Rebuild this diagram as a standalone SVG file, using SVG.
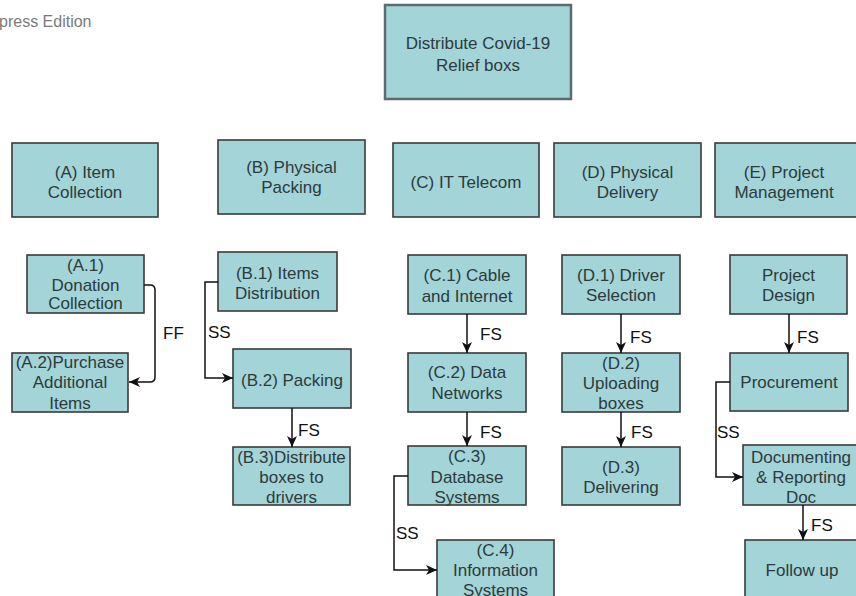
<svg xmlns="http://www.w3.org/2000/svg" width="856" height="596" viewBox="0 0 856 596">
<style>
.box{fill:#a2d4d8;stroke:#3a3a3a;stroke-width:1.6}
.top{fill:#a2d4d8;stroke:#5c6c6e;stroke-width:2.5}
.t{font-family:"Liberation Sans",Arial,sans-serif;font-size:17px;fill:#2e3a3b;text-anchor:middle}
.lbl{font-family:"Liberation Sans",Arial,sans-serif;font-size:17px;fill:#111}
.c{fill:none;stroke:#111;stroke-width:1.5;marker-end:url(#ah)}
.wm{font-family:"Liberation Sans",Arial,sans-serif;font-size:16px;fill:#7a7a7a}
</style>
<defs>
<marker id="ah" markerUnits="userSpaceOnUse" markerWidth="12" markerHeight="10" refX="11" refY="5" orient="auto">
<path d="M0,0 L11,5 L0,10 L3,5 Z" fill="#111"/>
</marker>
</defs>
<text class="wm" x="-1" y="27">press Edition</text>
<g id="root"><rect class="top" x="385" y="5" width="186" height="94"/><text class="t" x="478" y="49">Distribute Covid-19</text><text class="t" x="478" y="71">Relief boxs</text></g>
<g id="A"><rect class="box" x="12" y="143" width="146" height="74"/><text class="t" x="85" y="178">(A) Item</text><text class="t" x="85" y="198">Collection</text></g>
<g id="B"><rect class="box" x="218" y="140" width="147" height="74"/><text class="t" x="291.5" y="173">(B) Physical</text><text class="t" x="291.5" y="193">Packing</text></g>
<g id="C"><rect class="box" x="393" y="143" width="146" height="74"/><text class="t" x="466" y="188">(C) IT Telecom</text></g>
<g id="D"><rect class="box" x="554" y="143" width="147" height="74"/><text class="t" x="627.5" y="178">(D) Physical</text><text class="t" x="627.5" y="198">Delivery</text></g>
<g id="E"><rect class="box" x="715" y="143" width="147" height="74"/><text class="t" x="784" y="178">(E) Project</text><text class="t" x="784" y="198">Management</text></g>
<g id="A1"><rect class="box" x="27" y="255" width="117" height="58"/><text class="t" x="85.5" y="271">(A.1)</text><text class="t" x="85.5" y="291">Donation</text><text class="t" x="85.5" y="309">Collection</text></g>
<g id="A2"><rect class="box" x="12" y="353" width="116" height="59"/><text class="t" x="70" y="368">(A.2)Purchase</text><text class="t" x="70" y="388">Additional</text><text class="t" x="70" y="409">Items</text></g>
<g id="B1"><rect class="box" x="218" y="252" width="119" height="59"/><text class="t" x="277.5" y="279">(B.1) Items</text><text class="t" x="277.5" y="299">Distribution</text></g>
<g id="B2"><rect class="box" x="233" y="349" width="118" height="59"/><text class="t" x="292" y="386">(B.2) Packing</text></g>
<g id="B3"><rect class="box" x="233" y="447" width="117" height="58"/><text class="t" x="291.5" y="463">(B.3)Distribute</text><text class="t" x="291.5" y="483">boxes to</text><text class="t" x="291.5" y="503">drivers</text></g>
<g id="C1"><rect class="box" x="408" y="255" width="118" height="59"/><text class="t" x="467" y="281">(C.1) Cable</text><text class="t" x="467" y="302">and Internet</text></g>
<g id="C2"><rect class="box" x="408" y="353" width="118" height="59"/><text class="t" x="467" y="378">(C.2) Data</text><text class="t" x="467" y="399">Networks</text></g>
<g id="C3"><rect class="box" x="408" y="446" width="118" height="59"/><text class="t" x="467" y="462">(C.3)</text><text class="t" x="467" y="483">Database</text><text class="t" x="467" y="503">Systems</text></g>
<g id="C4"><rect class="box" x="437" y="540" width="117" height="70"/><text class="t" x="495.5" y="556">(C.4)</text><text class="t" x="495.5" y="576">Information</text><text class="t" x="495.5" y="596">Systems</text></g>
<g id="D1"><rect class="box" x="562" y="255" width="118" height="59"/><text class="t" x="621" y="281">(D.1) Driver</text><text class="t" x="621" y="301">Selection</text></g>
<g id="D2"><rect class="box" x="562" y="353" width="118" height="59"/><text class="t" x="621" y="369">(D.2)</text><text class="t" x="621" y="389">Uploading</text><text class="t" x="621" y="409">boxes</text></g>
<g id="D3"><rect class="box" x="562" y="447" width="118" height="58"/><text class="t" x="621" y="473">(D.3)</text><text class="t" x="621" y="493">Delivering</text></g>
<g id="E1"><rect class="box" x="730" y="255" width="117" height="59"/><text class="t" x="788.5" y="281">Project</text><text class="t" x="788.5" y="301">Design</text></g>
<g id="E2"><rect class="box" x="730" y="353" width="118" height="58"/><text class="t" x="789" y="388">Procurement</text></g>
<g id="E3"><rect class="box" x="743" y="445" width="118" height="60"/><text class="t" x="801" y="463">Documenting</text><text class="t" x="801" y="483">&amp; Reporting</text><text class="t" x="801" y="503">Doc</text></g>
<g id="E4"><rect class="box" x="745" y="540" width="120" height="70"/><text class="t" x="802" y="576">Follow up</text></g>
<g id="connectors">
<path class="c" d="M144,285 H150 Q155,285 155,290 V377 Q155,382 150,382 H129"/>
<text class="lbl" x="163" y="339">FF</text>
<path class="c" d="M218,282 H205 V378 H233"/>
<text class="lbl" x="208" y="338">SS</text>
<path class="c" d="M292,408 V447"/>
<text class="lbl" x="298" y="436">FS</text>
<path class="c" d="M467,314 V353"/>
<text class="lbl" x="480" y="340">FS</text>
<path class="c" d="M467,412 V446"/>
<text class="lbl" x="480" y="438">FS</text>
<path class="c" d="M408,476 H394 V570 H437"/>
<text class="lbl" x="396" y="539">SS</text>
<path class="c" d="M621,314 V353"/>
<text class="lbl" x="630" y="343">FS</text>
<path class="c" d="M621,412 V447"/>
<text class="lbl" x="631" y="438">FS</text>
<path class="c" d="M789,314 V353"/>
<text class="lbl" x="797" y="343">FS</text>
<path class="c" d="M730,382 H716 V477 H743"/>
<text class="lbl" x="717" y="438">SS</text>
<path class="c" d="M803,505 V540"/>
<text class="lbl" x="811" y="531">FS</text>
</g>
</svg>
